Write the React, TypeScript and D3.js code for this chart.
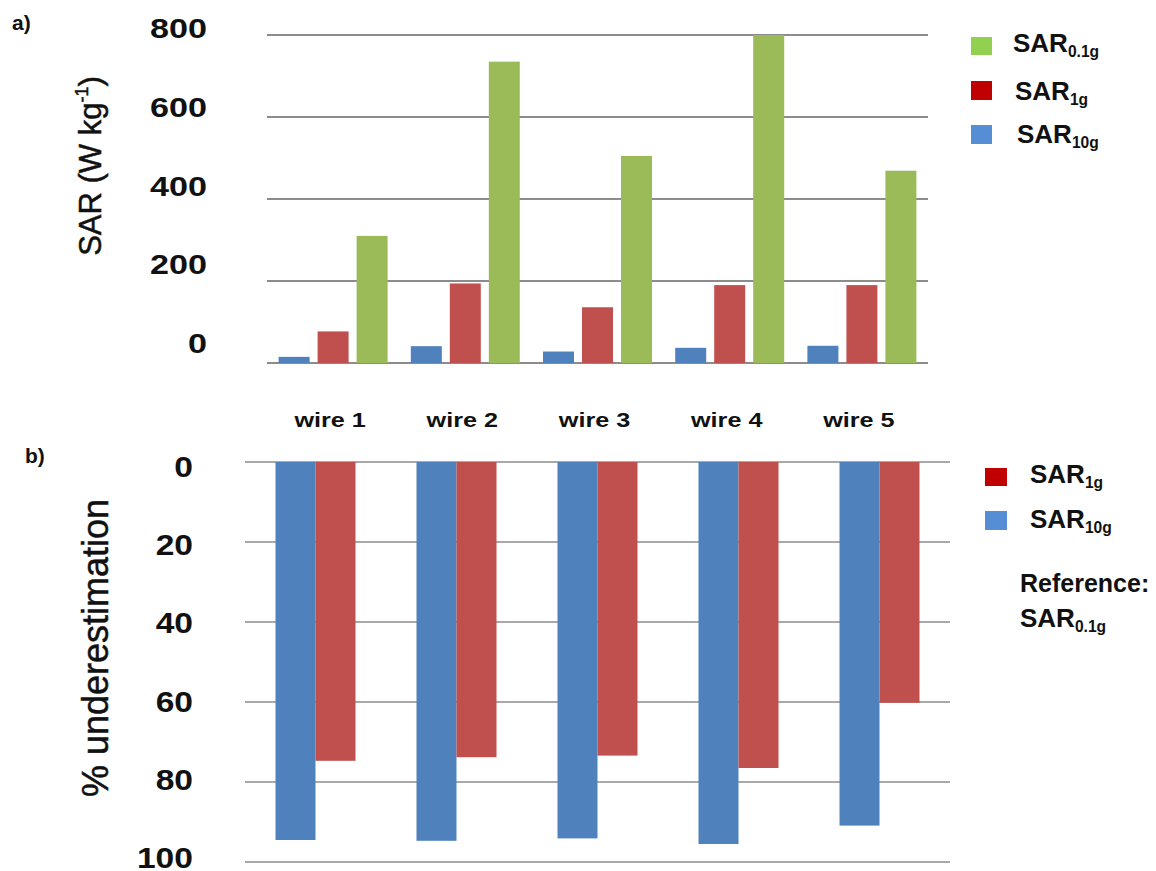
import React from 'react';
import * as d3 from 'd3';

const categories = ['wire 1', 'wire 2', 'wire 3', 'wire 4', 'wire 5'];

// panel a) SAR values (W/kg)
const sar10g = [15, 41, 28, 37, 42];
const sar1g = [77, 194, 136, 190, 190];
const sar01g = [310, 735, 505, 800, 469];

// panel b) % underestimation vs SAR0.1g
const under10g = [94.5, 94.7, 94.1, 95.5, 90.9];
const under1g = [74.7, 73.8, 73.4, 76.5, 60.2];

const topTicks = [0, 200, 400, 600, 800];
const bottomTicks = [0, 20, 40, 60, 80, 100];

const BLUE = '#4F81BD';
const RED = '#C0504D';
const GREEN = '#9BBB59';
const GRID = '#8c8c8c';
const FONT = '"Liberation Sans", Arial, sans-serif';

const Sar = ({ x, y, sub, size = 25 }: { x: number; y: number; sub: string; size?: number }) => (
  <text x={x} y={y} fontFamily={FONT} fontWeight="bold" fontSize={size} fill="#111">
    SAR
    <tspan fontSize={size * 0.6} dy={5}>{sub}</tspan>
  </text>
);

export default function App() {
  // top panel scales
  const xTop = d3.scaleBand<string>().domain(categories).range([267, 928]);
  const innerTop = d3.scaleBand<string>()
    .domain(['10g', '1g', '0.1g'])
    .range([0, xTop.bandwidth()])
    .paddingInner(0.205)
    .paddingOuter(0.2975);
  const yTop = d3.scaleLinear().domain([0, 800]).range([363, 35]);
  // the labels sit a bit above their gridlines in the original
  const yTopLabel = d3.scaleLinear().domain([0, 800]).range([343, 28]);

  // bottom panel scales
  const xBot = d3.scaleBand<string>().domain(categories).range([245, 950]);
  const innerBot = d3.scaleBand<string>()
    .domain(['10g', '1g'])
    .range([0, xBot.bandwidth()])
    .paddingInner(0)
    .paddingOuter(0.7625);
  const yBot = d3.scaleLinear().domain([0, 100]).range([462, 862]);
  const yBotLabel = d3.scaleLinear().domain([0, 100]).range([466, 857]);

  const topSeries = [
    { key: '10g', values: sar10g, color: BLUE },
    { key: '1g', values: sar1g, color: RED },
    { key: '0.1g', values: sar01g, color: GREEN },
  ];
  const botSeries = [
    { key: '10g', values: under10g, color: BLUE },
    { key: '1g', values: under1g, color: RED },
  ];

  return (
    <svg width={1156} height={871} style={{ position: 'absolute', left: 0, top: 0, background: '#fff' }}>
      <rect width={1156} height={871} fill="#fff" />

      {/* panel a */}
      <text x={12} y={30} fontFamily={FONT} fontWeight="bold" fontSize={21} fill="#111">a)</text>
      {topTicks.map((t) => (
        <line key={t} x1={267} x2={928} y1={yTop(t)} y2={yTop(t)} stroke={GRID} strokeWidth={2} />
      ))}
      {topTicks.map((t) => (
        <text key={t} transform={`translate(207,${yTopLabel(t) + 10}) scale(1.22,1)`}
          textAnchor="end" fontFamily={FONT} fontWeight="bold" fontSize={28} fill="#111">{t}</text>
      ))}
      <text transform="translate(101,166) rotate(-90)" textAnchor="middle" fontFamily={FONT} fontSize={31}
        fill="#111" stroke="#111" strokeWidth={0.5}>
        SAR (W kg<tspan fontSize={18} dy={-13}>-1</tspan><tspan dy={13}>)</tspan>
      </text>
      {topSeries.map((s) => s.values.map((v, i) => (
        <rect key={s.key + i} x={xTop(categories[i])! + innerTop(s.key)!} y={yTop(v)}
          width={innerTop.bandwidth()} height={yTop(0) - yTop(v)} fill={s.color} />
      )))}
      {categories.map((c) => (
        <text key={c} transform={`translate(${xTop(c)! + xTop.bandwidth() / 2 - 3},427) scale(1.2,1)`}
          textAnchor="middle" fontFamily={FONT} fontWeight="bold" fontSize={21} fill="#111">{c}</text>
      ))}

      {/* legend a */}
      <rect x={971} y={37} width={21} height={18} fill="#92D050" />
      <rect x={971} y={81} width={21} height={19} fill="#C00000" />
      <rect x={971} y={125} width={21} height={19} fill="#558ED5" />
      <Sar x={1013} y={52} sub="0.1g" size={26} />
      <Sar x={1015} y={100} sub="1g" size={26} />
      <Sar x={1017} y={143} sub="10g" size={26} />

      {/* panel b */}
      <text x={25} y={463} fontFamily={FONT} fontWeight="bold" fontSize={21} fill="#111">b)</text>
      {bottomTicks.map((t) => (
        <line key={t} x1={245} x2={950} y1={yBot(t)} y2={yBot(t)} stroke={GRID} strokeWidth={1.5} />
      ))}
      {bottomTicks.map((t) => (
        <text key={t} transform={`translate(193,${yBotLabel(t) + 11}) scale(1.12,1)`}
          textAnchor="end" fontFamily={FONT} fontWeight="bold" fontSize={30} fill="#111">{t}</text>
      ))}
      <text transform="translate(108,648) rotate(-90)" textAnchor="middle" fontFamily={FONT} fontSize={36}
        fill="#111" stroke="#111" strokeWidth={0.5}>
        % underestimation
      </text>
      {botSeries.map((s) => s.values.map((v, i) => (
        <rect key={s.key + i} x={xBot(categories[i])! + innerBot(s.key)!} y={yBot(0)}
          width={innerBot.bandwidth()} height={yBot(v) - yBot(0)} fill={s.color} />
      )))}

      {/* legend b */}
      <rect x={985} y={468} width={22} height={18} fill="#C00000" />
      <rect x={985} y={511} width={22} height={19} fill="#558ED5" />
      <Sar x={1030} y={483} sub="1g" size={26} />
      <Sar x={1030} y={528} sub="10g" size={26} />
      <text x={1020} y={592} fontFamily={FONT} fontWeight="bold" fontSize={25} fill="#111">Reference:</text>
      <Sar x={1020} y={627} sub="0.1g" size={26} />
    </svg>
  );
}
